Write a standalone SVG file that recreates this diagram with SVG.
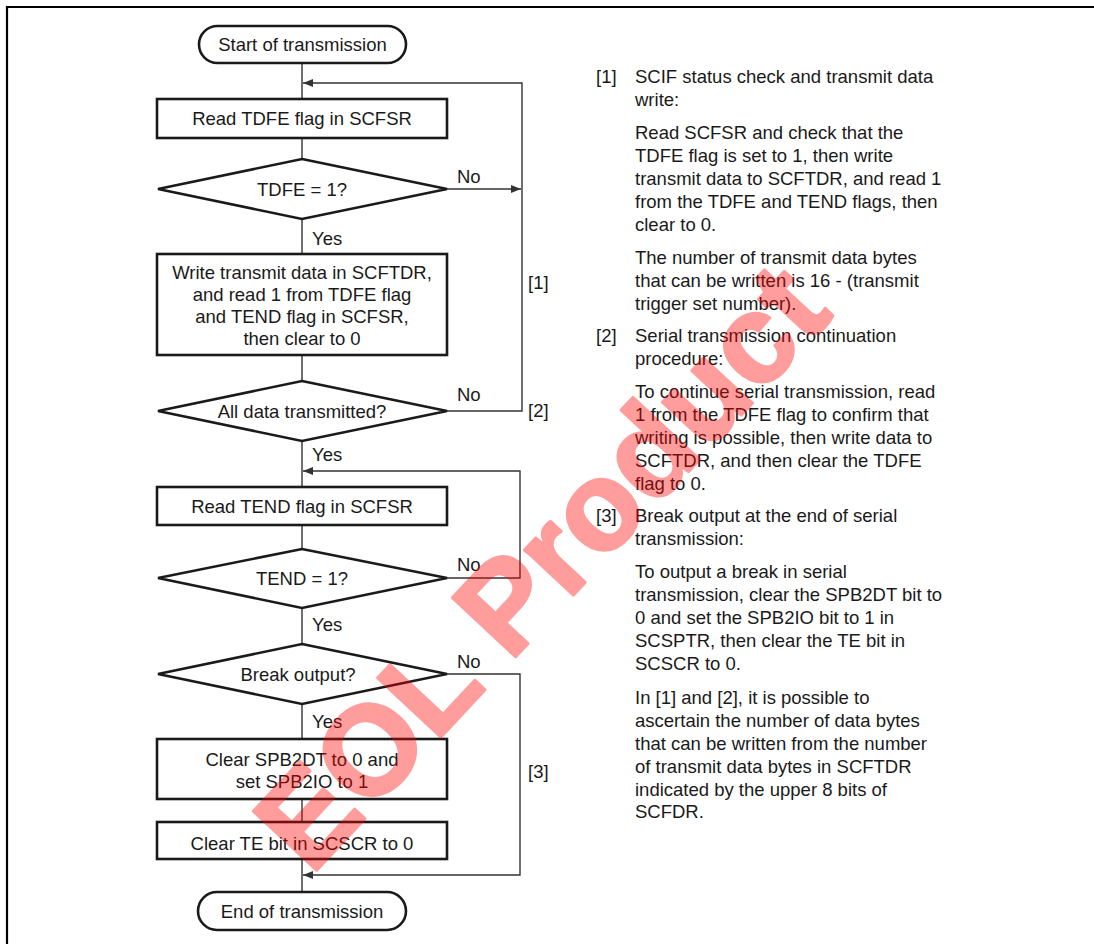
<svg xmlns="http://www.w3.org/2000/svg" width="1094" height="944" viewBox="0 0 1094 944">
<defs>
<style>
text{font-family:"Liberation Sans",Arial,sans-serif;font-size:18.5px;fill:#1a1a1a}
.c{text-anchor:middle}
.shape{fill:#fff;stroke:#1a1a1a;stroke-width:2.6}
.conn{fill:none;stroke:#333;stroke-width:1.4}
.wm{font-family:"Liberation Sans",Arial,sans-serif;font-weight:bold;font-size:126px;fill:#ff0000;stroke:#ff0000;stroke-width:3;stroke-linejoin:round}
</style>
<marker id="ah" viewBox="0 0 10 8" refX="10" refY="4" markerWidth="10" markerHeight="8" markerUnits="userSpaceOnUse" orient="auto">
<path d="M0,0 L10,4 L0,8 Z" fill="#333"/>
</marker>
</defs>
<rect width="1094" height="944" fill="#fff"/>
<path d="M7,944 V7 H1094" fill="none" stroke="#000" stroke-width="2.2"/>

<g id="connectors">
<line class="conn" x1="302" y1="63" x2="302" y2="100"/>
<line class="conn" x1="302" y1="138" x2="302" y2="159"/>
<line class="conn" x1="302" y1="219" x2="302" y2="254"/>
<line class="conn" x1="302" y1="355" x2="302" y2="381"/>
<line class="conn" x1="302" y1="441" x2="302" y2="487"/>
<line class="conn" x1="302" y1="525" x2="302" y2="549"/>
<line class="conn" x1="302" y1="608" x2="302" y2="644"/>
<line class="conn" x1="302" y1="704" x2="302" y2="739"/>
<line class="conn" x1="302" y1="799" x2="302" y2="822"/>
<line class="conn" x1="302" y1="859" x2="302" y2="892"/>
<line class="conn" x1="447" y1="189" x2="521" y2="189" marker-end="url(#ah)"/>
<polyline class="conn" points="447,411 522,411 522,83 303,83" marker-end="url(#ah)"/>
<polyline class="conn" points="447,578 520,578 520,471 303,471" marker-end="url(#ah)"/>
<polyline class="conn" points="447,674 520,674 520,875 303,875" marker-end="url(#ah)"/>
<text x="457" y="183">No</text>
<text x="312" y="245">Yes</text>
<text x="457" y="401">No</text>
<text x="312" y="461">Yes</text>
<text x="457" y="571">No</text>
<text x="312" y="631">Yes</text>
<text x="457" y="668">No</text>
<text x="312" y="728">Yes</text>
<text x="528" y="289">[1]</text>
<text x="528" y="417">[2]</text>
<text x="528" y="778">[3]</text>
</g>

<g id="start">
<rect class="shape" x="199" y="26" width="207" height="37" rx="18.5"/>
<text class="c" x="302.5" y="51">Start of transmission</text>
</g>
<g id="read-tdfe">
<rect class="shape" x="157" y="99" width="290" height="39"/>
<text class="c" x="302" y="125">Read TDFE flag in SCFSR</text>
</g>
<g id="tdfe-check">
<polygon class="shape" points="302,159 447,189 302,219 158,189"/>
<text class="c" x="302" y="196">TDFE = 1?</text>
</g>
<g id="write-data">
<rect class="shape" x="157" y="254" width="290" height="101"/>
<text class="c" x="302" y="279">Write transmit data in SCFTDR,</text>
<text class="c" x="302" y="301">and read 1 from TDFE flag</text>
<text class="c" x="302" y="323">and TEND flag in SCFSR,</text>
<text class="c" x="302" y="345">then clear to 0</text>
</g>
<g id="all-data">
<polygon class="shape" points="302,381 447,411 302,441 158,411"/>
<text class="c" x="302" y="418">All data transmitted?</text>
</g>
<g id="read-tend">
<rect class="shape" x="157" y="487" width="290" height="38"/>
<text class="c" x="302" y="513">Read TEND flag in SCFSR</text>
</g>
<g id="tend-check">
<polygon class="shape" points="302,549 447,578 302,608 158,578"/>
<text class="c" x="302" y="585">TEND = 1?</text>
</g>
<g id="break-check">
<polygon class="shape" points="302,644 447,674 302,704 158,674"/>
<text class="c" x="298" y="681">Break output?</text>
</g>
<g id="clear-spb">
<rect class="shape" x="157" y="739" width="290" height="60"/>
<text class="c" x="302" y="766">Clear SPB2DT to 0 and</text>
<text class="c" x="302" y="788">set SPB2IO to 1</text>
</g>
<g id="clear-te">
<rect class="shape" x="157" y="822" width="290" height="37"/>
<text class="c" x="302" y="850">Clear TE bit in SCSCR to 0</text>
</g>
<g id="end">
<rect class="shape" x="198" y="892" width="208" height="38" rx="19"/>
<text class="c" x="302" y="918">End of transmission</text>
</g>

<g id="notes">
<text x="596" y="83">[1]</text>
<text x="635" y="83">SCIF status check and transmit data</text>
<text x="635" y="106">write:</text>
<text x="635" y="139">Read SCFSR and check that the</text>
<text x="635" y="162">TDFE flag is set to 1, then write</text>
<text x="635" y="185">transmit data to SCFTDR, and read 1</text>
<text x="635" y="208">from the TDFE and TEND flags, then</text>
<text x="635" y="231">clear to 0.</text>
<text x="635" y="264">The number of transmit data bytes</text>
<text x="635" y="287">that can be written is 16 - (transmit</text>
<text x="635" y="310">trigger set number).</text>
<text x="596" y="342">[2]</text>
<text x="635" y="342">Serial transmission continuation</text>
<text x="635" y="365">procedure:</text>
<text x="635" y="398">To continue serial transmission, read</text>
<text x="635" y="421">1 from the TDFE flag to confirm that</text>
<text x="635" y="444">writing is possible, then write data to</text>
<text x="635" y="467">SCFTDR, and then clear the TDFE</text>
<text x="635" y="490">flag to 0.</text>
<text x="596" y="522">[3]</text>
<text x="635" y="522">Break output at the end of serial</text>
<text x="635" y="545">transmission:</text>
<text x="635" y="578">To output a break in serial</text>
<text x="635" y="601">transmission, clear the SPB2DT bit to</text>
<text x="635" y="624">0 and set the SPB2IO bit to 1 in</text>
<text x="635" y="647">SCSPTR, then clear the TE bit in</text>
<text x="635" y="670">SCSCR to 0.</text>
<text x="635" y="704">In [1] and [2], it is possible to</text>
<text x="635" y="727">ascertain the number of data bytes</text>
<text x="635" y="750">that can be written from the number</text>
<text x="635" y="773">of transmit data bytes in SCFTDR</text>
<text x="635" y="796">indicated by the upper 8 bits of</text>
<text x="635" y="818">SCFDR.</text>
</g>

<g id="watermark" opacity="0.38">
<text class="wm" x="540" y="610" text-anchor="middle" transform="rotate(-47 540 565)">EOL Product</text>
</g>
</svg>
